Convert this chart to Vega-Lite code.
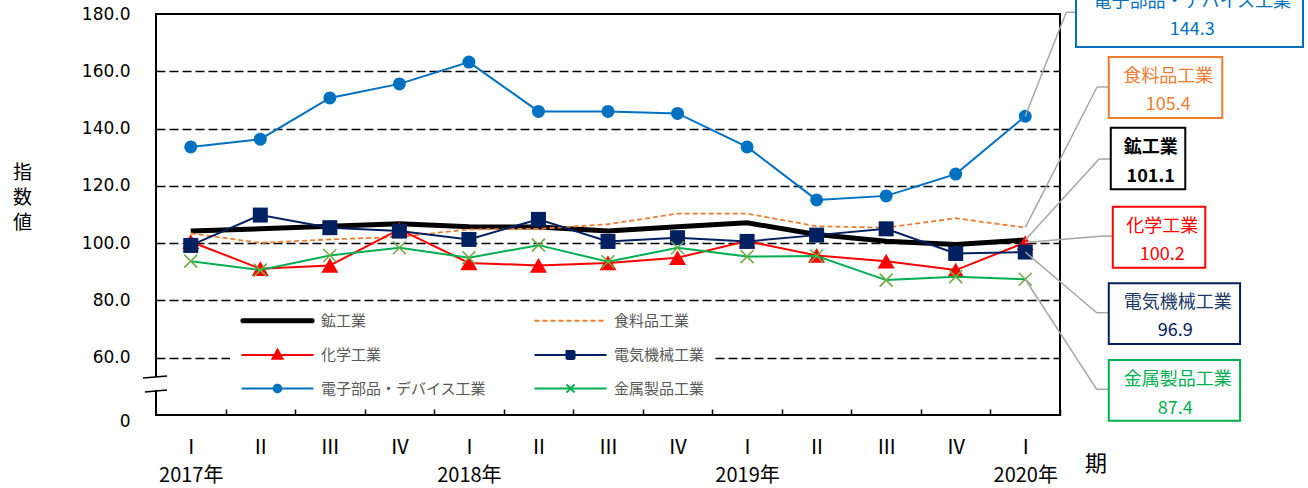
{
  "$schema": "https://vega.github.io/schema/vega-lite/v6.json",
  "width": 904,
  "height": 401,
  "autosize": {"type": "none"},
  "padding": {"left": 156, "top": 14, "right": 248, "bottom": 73},
  "background": "white",
  "config": {"font": "Noto Sans CJK JP", "view": {"stroke": "black", "strokeWidth": 2}},
  "data": {"values": [
    {"quarter": "2017年 Ⅰ", "series": "鉱工業", "value": 104.2},
    {"quarter": "2017年 Ⅱ", "series": "鉱工業", "value": 105.0},
    {"quarter": "2017年 Ⅲ", "series": "鉱工業", "value": 105.9},
    {"quarter": "2017年 Ⅳ", "series": "鉱工業", "value": 106.8},
    {"quarter": "2018年 Ⅰ", "series": "鉱工業", "value": 105.7},
    {"quarter": "2018年 Ⅱ", "series": "鉱工業", "value": 105.6},
    {"quarter": "2018年 Ⅲ", "series": "鉱工業", "value": 104.2},
    {"quarter": "2018年 Ⅳ", "series": "鉱工業", "value": 105.7},
    {"quarter": "2019年 Ⅰ", "series": "鉱工業", "value": 107.1},
    {"quarter": "2019年 Ⅱ", "series": "鉱工業", "value": 103.0},
    {"quarter": "2019年 Ⅲ", "series": "鉱工業", "value": 100.7},
    {"quarter": "2019年 Ⅳ", "series": "鉱工業", "value": 99.5},
    {"quarter": "2020年 Ⅰ", "series": "鉱工業", "value": 101.1},
    {"quarter": "2017年 Ⅰ", "series": "食料品工業", "value": 103.4},
    {"quarter": "2017年 Ⅱ", "series": "食料品工業", "value": 100.1},
    {"quarter": "2017年 Ⅲ", "series": "食料品工業", "value": 101.3},
    {"quarter": "2017年 Ⅳ", "series": "食料品工業", "value": 102.2},
    {"quarter": "2018年 Ⅰ", "series": "食料品工業", "value": 104.8},
    {"quarter": "2018年 Ⅱ", "series": "食料品工業", "value": 105.0},
    {"quarter": "2018年 Ⅲ", "series": "食料品工業", "value": 106.6},
    {"quarter": "2018年 Ⅳ", "series": "食料品工業", "value": 110.3},
    {"quarter": "2019年 Ⅰ", "series": "食料品工業", "value": 110.3},
    {"quarter": "2019年 Ⅱ", "series": "食料品工業", "value": 105.9},
    {"quarter": "2019年 Ⅲ", "series": "食料品工業", "value": 105.4},
    {"quarter": "2019年 Ⅳ", "series": "食料品工業", "value": 108.7},
    {"quarter": "2020年 Ⅰ", "series": "食料品工業", "value": 105.4},
    {"quarter": "2017年 Ⅰ", "series": "化学工業", "value": 100.5},
    {"quarter": "2017年 Ⅱ", "series": "化学工業", "value": 91.1},
    {"quarter": "2017年 Ⅲ", "series": "化学工業", "value": 92.2},
    {"quarter": "2017年 Ⅳ", "series": "化学工業", "value": 104.8},
    {"quarter": "2018年 Ⅰ", "series": "化学工業", "value": 93.1},
    {"quarter": "2018年 Ⅱ", "series": "化学工業", "value": 92.2},
    {"quarter": "2018年 Ⅲ", "series": "化学工業", "value": 93.1},
    {"quarter": "2018年 Ⅳ", "series": "化学工業", "value": 94.9},
    {"quarter": "2019年 Ⅰ", "series": "化学工業", "value": 100.7},
    {"quarter": "2019年 Ⅱ", "series": "化学工業", "value": 95.7},
    {"quarter": "2019年 Ⅲ", "series": "化学工業", "value": 93.7},
    {"quarter": "2019年 Ⅳ", "series": "化学工業", "value": 90.6},
    {"quarter": "2020年 Ⅰ", "series": "化学工業", "value": 100.2},
    {"quarter": "2017年 Ⅰ", "series": "電気機械工業", "value": 99.2},
    {"quarter": "2017年 Ⅱ", "series": "電気機械工業", "value": 109.8},
    {"quarter": "2017年 Ⅲ", "series": "電気機械工業", "value": 105.4},
    {"quarter": "2017年 Ⅳ", "series": "電気機械工業", "value": 104.2},
    {"quarter": "2018年 Ⅰ", "series": "電気機械工業", "value": 101.3},
    {"quarter": "2018年 Ⅱ", "series": "電気機械工業", "value": 108.3},
    {"quarter": "2018年 Ⅲ", "series": "電気機械工業", "value": 100.6},
    {"quarter": "2018年 Ⅳ", "series": "電気機械工業", "value": 101.9},
    {"quarter": "2019年 Ⅰ", "series": "電気機械工業", "value": 100.6},
    {"quarter": "2019年 Ⅱ", "series": "電気機械工業", "value": 102.8},
    {"quarter": "2019年 Ⅲ", "series": "電気機械工業", "value": 105.0},
    {"quarter": "2019年 Ⅳ", "series": "電気機械工業", "value": 96.4},
    {"quarter": "2020年 Ⅰ", "series": "電気機械工業", "value": 96.9},
    {"quarter": "2017年 Ⅰ", "series": "電子部品・デバイス工業", "value": 133.6},
    {"quarter": "2017年 Ⅱ", "series": "電子部品・デバイス工業", "value": 136.3},
    {"quarter": "2017年 Ⅲ", "series": "電子部品・デバイス工業", "value": 150.7},
    {"quarter": "2017年 Ⅳ", "series": "電子部品・デバイス工業", "value": 155.6},
    {"quarter": "2018年 Ⅰ", "series": "電子部品・デバイス工業", "value": 163.2},
    {"quarter": "2018年 Ⅱ", "series": "電子部品・デバイス工業", "value": 146.0},
    {"quarter": "2018年 Ⅲ", "series": "電子部品・デバイス工業", "value": 146.0},
    {"quarter": "2018年 Ⅳ", "series": "電子部品・デバイス工業", "value": 145.3},
    {"quarter": "2019年 Ⅰ", "series": "電子部品・デバイス工業", "value": 133.6},
    {"quarter": "2019年 Ⅱ", "series": "電子部品・デバイス工業", "value": 115.1},
    {"quarter": "2019年 Ⅲ", "series": "電子部品・デバイス工業", "value": 116.5},
    {"quarter": "2019年 Ⅳ", "series": "電子部品・デバイス工業", "value": 124.1},
    {"quarter": "2020年 Ⅰ", "series": "電子部品・デバイス工業", "value": 144.3},
    {"quarter": "2017年 Ⅰ", "series": "金属製品工業", "value": 93.7},
    {"quarter": "2017年 Ⅱ", "series": "金属製品工業", "value": 90.6},
    {"quarter": "2017年 Ⅲ", "series": "金属製品工業", "value": 95.7},
    {"quarter": "2017年 Ⅳ", "series": "金属製品工業", "value": 98.4},
    {"quarter": "2018年 Ⅰ", "series": "金属製品工業", "value": 94.9},
    {"quarter": "2018年 Ⅱ", "series": "金属製品工業", "value": 99.3},
    {"quarter": "2018年 Ⅲ", "series": "金属製品工業", "value": 93.5},
    {"quarter": "2018年 Ⅳ", "series": "金属製品工業", "value": 98.4},
    {"quarter": "2019年 Ⅰ", "series": "金属製品工業", "value": 95.3},
    {"quarter": "2019年 Ⅱ", "series": "金属製品工業", "value": 95.5},
    {"quarter": "2019年 Ⅲ", "series": "金属製品工業", "value": 87.1},
    {"quarter": "2019年 Ⅳ", "series": "金属製品工業", "value": 88.3},
    {"quarter": "2020年 Ⅰ", "series": "金属製品工業", "value": 87.4}
  ]},
  "encoding": {
    "x": {
      "field": "quarter", "type": "ordinal", "sort": null,
      "scale": {"type": "point", "padding": 0.5},
      "axis": {
        "title": "期", "titleX": 939.6, "titleY": 48, "titleAngle": 0, "titleAlign": "center", "titleBaseline": "middle",
        "titleFontSize": 22, "titleFontWeight": "normal", "titleColor": "black",
        "domain": false, "grid": false, "ticks": true, "tickSize": -6, "tickColor": "black", "tickWidth": 1.5,
        "tickOffset": 34.77, "labelOffset": -34.77, "labelAngle": 0, "labelFontSize": 20, "labelColor": "black",
        "labelBaseline": "top", "labelLineHeight": 28, "labelPadding": 28, "labelOverlap": false,
        "labelExpr": "split(datum.value, ' ')[1] == 'Ⅰ' ? [split(datum.value, ' ')[1], split(datum.value, ' ')[0]] : split(datum.value, ' ')[1]"
      }
    },
    "y": {
      "field": "value", "type": "quantitative",
      "scale": {"domain": [40, 180], "nice": false, "zero": false},
      "axis": {
        "title": ["指", "数", "値"], "titleAngle": 0, "titleX": -134, "titleY": 158, "titleAlign": "center", "titleBaseline": "middle",
        "titleFontSize": 19, "titleFontWeight": "normal", "titleLineHeight": 25, "titleColor": "black",
        "values": [40, 60, 80, 100, 120, 140, 160, 180],
        "labelExpr": "datum.value == 40 ? '0' : format(datum.value, '.1f')",
        "labelFont": "DejaVu Sans", "labelFontSize": 17, "labelColor": "black", "labelPadding": 26,
        "labelOffset": {"condition": {"test": "datum.value == 40", "value": 6}, "value": 0},
        "domain": false, "ticks": false, "grid": true, "gridColor": "black", "gridDash": [9, 4], "gridWidth": 1.5,
        "gridOpacity": {"condition": {"test": "datum.value == 40 || datum.value == 180", "value": 0}, "value": 1}
      }
    }
  },
  "layer": [
    {"transform": [{"filter": "datum.series == '鉱工業'"}], "mark": {"type": "line", "color": "#000000", "strokeWidth": 5}, "encoding": {}},
    {"transform": [{"filter": "datum.series == '食料品工業'"}], "mark": {"type": "line", "color": "#ED7D31", "strokeWidth": 1.8, "strokeDash": [5, 3]}, "encoding": {}},
    {"transform": [{"filter": "datum.series == '化学工業'"}], "mark": {"type": "line", "color": "#FF0000", "strokeWidth": 2}, "encoding": {}},
    {"transform": [{"filter": "datum.series == '化学工業'"}], "mark": {"type": "point", "shape": "triangle-up", "size": 289, "filled": true, "fill": "#FF0000", "strokeWidth": 0, "opacity": 1}},
    {"transform": [{"filter": "datum.series == '電気機械工業'"}], "mark": {"type": "line", "color": "#002060", "strokeWidth": 2}, "encoding": {}},
    {"transform": [{"filter": "datum.series == '電気機械工業'"}], "mark": {"type": "point", "shape": "square", "size": 225, "filled": true, "fill": "#002060", "strokeWidth": 0, "opacity": 1}},
    {"transform": [{"filter": "datum.series == '電子部品・デバイス工業'"}], "mark": {"type": "line", "color": "#0070C0", "strokeWidth": 2}, "encoding": {}},
    {"transform": [{"filter": "datum.series == '電子部品・デバイス工業'"}], "mark": {"type": "point", "shape": "circle", "size": 169, "filled": true, "fill": "#0070C0", "strokeWidth": 0, "opacity": 1}},
    {"transform": [{"filter": "datum.series == '金属製品工業'"}], "mark": {"type": "line", "color": "#00B050", "strokeWidth": 2}, "encoding": {}},
    {"transform": [{"filter": "datum.series == '金属製品工業'"}], "mark": {"type": "point", "shape": "M-1,-1L1,1M-1,1L1,-1", "size": 169, "filled": false, "stroke": "#70AD47", "strokeWidth": 1.6, "opacity": 1}},
    {
      "transform": [{"filter": "false"}],
      "mark": {"type": "point", "filled": true, "opacity": 1, "strokeWidth": 2, "size": 100},
      "encoding": {
        "fill": {"field": "series", "type": "nominal",
          "scale": {"domain": ["鉱工業", "食料品工業", "化学工業", "電気機械工業", "電子部品・デバイス工業", "金属製品工業"],
                    "range": ["#000000", "#ED7D31", "#FF0000", "#002060", "#0070C0", "#00B050"]},
          "legend": {"title": null, "orient": "none", "legendX": 74, "legendY": 289, "direction": "horizontal", "columns": 2,
            "columnPadding": 43, "rowPadding": 16.5, "padding": 10, "fillColor": "white", "symbolSize": 100, "symbolOffset": 30,
            "labelOffset": 36, "labelFontSize": 15, "labelColor": "#595959", "labelLimit": 400, "symbolStrokeWidth": 2,
            "labelExpr": "indexof(['食料品工業','電気機械工業','金属製品工業'], datum.value) >= 0 ? datum.label + '　　　　　　　' : datum.label"}},
        "stroke": {"field": "series", "type": "nominal",
          "scale": {"domain": ["鉱工業", "食料品工業", "化学工業", "電気機械工業", "電子部品・デバイス工業", "金属製品工業"],
                    "range": ["#000000", "#ED7D31", "#FF0000", "#002060", "#0070C0", "#00B050"]},
          "legend": {"title": null, "orient": "none", "legendX": 74, "legendY": 289, "direction": "horizontal", "columns": 2,
            "columnPadding": 43, "rowPadding": 16.5, "padding": 10, "fillColor": "white", "symbolSize": 100, "symbolOffset": 30,
            "labelOffset": 36, "labelFontSize": 15, "labelColor": "#595959", "labelLimit": 400, "symbolStrokeWidth": 2,
            "labelExpr": "indexof(['食料品工業','電気機械工業','金属製品工業'], datum.value) >= 0 ? datum.label + '　　　　　　　' : datum.label"}},
        "shape": {"field": "series", "type": "nominal",
          "scale": {"domain": ["鉱工業", "食料品工業", "化学工業", "電気機械工業", "電子部品・デバイス工業", "金属製品工業"],
                    "range": ["M-7.2,-0.3H7.2V0.3H-7.2Z", "M-7.2,0H7.2", "M-7.2,0H7.2M0,-1.1L1,0.75H-1Z", "M-7.2,0H7.2M-0.8,-0.8H0.8V0.8H-0.8Z", "M-7.2,0H7.2M-0.75,0A0.75,0.75 0 1,0 0.75,0A0.75,0.75 0 1,0 -0.75,0Z", "M-7.2,0H7.2M-0.8,-0.8L0.8,0.8M-0.8,0.8L0.8,-0.8"]},
          "legend": {"title": null, "orient": "none", "legendX": 74, "legendY": 289, "direction": "horizontal", "columns": 2,
            "columnPadding": 43, "rowPadding": 16.5, "padding": 10, "fillColor": "white", "symbolSize": 100, "symbolOffset": 30,
            "labelOffset": 36, "labelFontSize": 15, "labelColor": "#595959", "labelLimit": 400, "symbolStrokeWidth": 2,
            "labelExpr": "indexof(['食料品工業','電気機械工業','金属製品工業'], datum.value) >= 0 ? datum.label + '　　　　　　　' : datum.label"}},
        "strokeDash": {"field": "series", "type": "nominal",
          "scale": {"domain": ["鉱工業", "食料品工業", "化学工業", "電気機械工業", "電子部品・デバイス工業", "金属製品工業"],
                    "range": [[1, 0], [5, 3], [1, 0], [1, 0], [1, 0], [1, 0]]},
          "legend": {"title": null, "orient": "none", "legendX": 74, "legendY": 289, "direction": "horizontal", "columns": 2,
            "columnPadding": 43, "rowPadding": 16.5, "padding": 10, "fillColor": "white", "symbolSize": 100, "symbolOffset": 30,
            "labelOffset": 36, "labelFontSize": 15, "labelColor": "#595959", "labelLimit": 400, "symbolStrokeWidth": 2,
            "labelExpr": "indexof(['食料品工業','電気機械工業','金属製品工業'], datum.value) >= 0 ? datum.label + '　　　　　　　' : datum.label"}}
      }
    },
    {
      "transform": [{"filter": "datum.series == '鉱工業' && datum.quarter == '2017年 Ⅰ'"}],
      "mark": {"type": "point", "shape": "M-4,-7H4V6H-4Z", "size": 4, "filled": true, "fill": "white", "strokeWidth": 0, "opacity": 1, "xOffset": -34.77},
      "encoding": {"y": {"datum": 50.8, "type": "quantitative"}}
    },
    {
      "transform": [{"filter": "datum.series == '鉱工業' && datum.quarter == '2017年 Ⅰ'"}],
      "mark": {"type": "point", "shape": "M-13,-6L11,-8M-11,8L11,6", "size": 4, "filled": false, "stroke": "black", "strokeWidth": 1.6, "opacity": 1, "xOffset": -34.77},
      "encoding": {"y": {"datum": 50.8, "type": "quantitative"}}
    },
    {
      "transform": [{"filter": "datum.series == '電子部品・デバイス工業' && datum.quarter == '2020年 Ⅰ'"}],
      "layer": [
        {"mark": {"type": "rule", "color": "#A6A6A6", "strokeWidth": 1.5, "x2Offset": 41, "y2Offset": -104}, "encoding": {"x2": {"field": "quarter"}, "y2": {"field": "value"}}},
        {"mark": {"type": "rule", "color": "#A6A6A6", "strokeWidth": 1.5, "xOffset": 41, "yOffset": -104, "x2Offset": 51, "y2Offset": -104}, "encoding": {"x2": {"field": "quarter"}, "y2": {"field": "value"}}},
        {"mark": {"type": "point", "shape": "M-1,-0.2687H1V0.2687H-1Z", "size": 51529, "filled": true, "fill": "white", "stroke": "#0070C0", "strokeWidth": 2, "opacity": 1, "xOffset": 164.3, "yOffset": -99.7}},
        {"mark": {"type": "text", "color": "#0070C0", "fontSize": 18, "dx": 167, "dy": -114}, "encoding": {"text": {"field": "series"}}},
        {"mark": {"type": "text", "color": "#0070C0", "fontSize": 18, "dx": 167, "dy": -86}, "encoding": {"text": {"field": "value", "type": "quantitative", "format": ".1f"}}}
      ]
    },
    {
      "transform": [{"filter": "datum.series == '食料品工業' && datum.quarter == '2020年 Ⅰ'"}],
      "layer": [
        {"mark": {"type": "rule", "color": "#A6A6A6", "strokeWidth": 1.5, "x2Offset": 71.8, "y2Offset": -140.7}, "encoding": {"x2": {"field": "quarter"}, "y2": {"field": "value"}}},
        {"mark": {"type": "rule", "color": "#A6A6A6", "strokeWidth": 1.5, "xOffset": 71.8, "yOffset": -140.7, "x2Offset": 83.5, "y2Offset": -140.7}, "encoding": {"x2": {"field": "quarter"}, "y2": {"field": "value"}}},
        {"mark": {"type": "point", "shape": "M-1,-0.5374H1V0.5374H-1Z", "size": 12882, "filled": true, "fill": "white", "stroke": "#ED7D31", "strokeWidth": 2, "opacity": 1, "xOffset": 140.3, "yOffset": -140.2}},
        {"mark": {"type": "text", "color": "#ED7D31", "fontSize": 18, "dx": 143, "dy": -150.7}, "encoding": {"text": {"field": "series"}}},
        {"mark": {"type": "text", "color": "#ED7D31", "fontSize": 18, "dx": 143, "dy": -122.7}, "encoding": {"text": {"field": "value", "type": "quantitative", "format": ".1f"}}}
      ]
    },
    {
      "transform": [{"filter": "datum.series == '鉱工業' && datum.quarter == '2020年 Ⅰ'"}],
      "layer": [
        {"mark": {"type": "rule", "color": "#A6A6A6", "strokeWidth": 1.5, "x2Offset": 73.8, "y2Offset": -81}, "encoding": {"x2": {"field": "quarter"}, "y2": {"field": "value"}}},
        {"mark": {"type": "rule", "color": "#A6A6A6", "strokeWidth": 1.5, "xOffset": 73.8, "yOffset": -81, "x2Offset": 85.5, "y2Offset": -81}, "encoding": {"x2": {"field": "quarter"}, "y2": {"field": "value"}}},
        {"mark": {"type": "point", "shape": "M-1,-0.8255H1V0.8255H-1Z", "size": 5550, "filled": true, "fill": "white", "stroke": "#000000", "strokeWidth": 2, "opacity": 1, "xOffset": 122.8, "yOffset": -81.5}},
        {"mark": {"type": "text", "color": "#000000", "fontSize": 18, "fontWeight": "bold", "dx": 125.5, "dy": -92}, "encoding": {"text": {"field": "series"}}},
        {"mark": {"type": "text", "color": "#000000", "fontSize": 18, "fontWeight": "bold", "dx": 125.5, "dy": -63}, "encoding": {"text": {"field": "value", "type": "quantitative", "format": ".1f"}}}
      ]
    },
    {
      "transform": [{"filter": "datum.series == '化学工業' && datum.quarter == '2020年 Ⅰ'"}],
      "layer": [
        {"mark": {"type": "rule", "color": "#A6A6A6", "strokeWidth": 1.5, "x2Offset": 77.8, "y2Offset": -6.5}, "encoding": {"x2": {"field": "quarter"}, "y2": {"field": "value"}}},
        {"mark": {"type": "rule", "color": "#A6A6A6", "strokeWidth": 1.5, "xOffset": 77.8, "yOffset": -6.5, "x2Offset": 87.5, "y2Offset": -6.5}, "encoding": {"x2": {"field": "quarter"}, "y2": {"field": "value"}}},
        {"mark": {"type": "point", "shape": "M-1,-0.6595H1V0.6595H-1Z", "size": 8556, "filled": true, "fill": "white", "stroke": "#FF0000", "strokeWidth": 2, "opacity": 1, "xOffset": 133.8, "yOffset": -5.3}},
        {"mark": {"type": "text", "color": "#FF0000", "fontSize": 18, "dx": 137, "dy": -16}, "encoding": {"text": {"field": "series"}}},
        {"mark": {"type": "text", "color": "#FF0000", "fontSize": 18, "dx": 137, "dy": 12}, "encoding": {"text": {"field": "value", "type": "quantitative", "format": ".1f"}}}
      ]
    },
    {
      "transform": [{"filter": "datum.series == '電気機械工業' && datum.quarter == '2020年 Ⅰ'"}],
      "layer": [
        {"mark": {"type": "rule", "color": "#A6A6A6", "strokeWidth": 1.5, "x2Offset": 71.5, "y2Offset": 60.7}, "encoding": {"x2": {"field": "quarter"}, "y2": {"field": "value"}}},
        {"mark": {"type": "rule", "color": "#A6A6A6", "strokeWidth": 1.5, "xOffset": 71.5, "yOffset": 60.7, "x2Offset": 83.5, "y2Offset": 60.7}, "encoding": {"x2": {"field": "quarter"}, "y2": {"field": "value"}}},
        {"mark": {"type": "point", "shape": "M-1,-0.4623H1V0.4623H-1Z", "size": 17240, "filled": true, "fill": "white", "stroke": "#002060", "strokeWidth": 2, "opacity": 1, "xOffset": 149.2, "yOffset": 61.7}},
        {"mark": {"type": "text", "color": "#203864", "fontSize": 18, "dx": 152.5, "dy": 51.3}, "encoding": {"text": {"field": "series"}}},
        {"mark": {"type": "text", "color": "#002060", "fontSize": 18, "dx": 150, "dy": 79}, "encoding": {"text": {"field": "value", "type": "quantitative", "format": ".1f"}}}
      ]
    },
    {
      "transform": [{"filter": "datum.series == '金属製品工業' && datum.quarter == '2020年 Ⅰ'"}],
      "layer": [
        {"mark": {"type": "rule", "color": "#A6A6A6", "strokeWidth": 1.5, "x2Offset": 71.5, "y2Offset": 110.1}, "encoding": {"x2": {"field": "quarter"}, "y2": {"field": "value"}}},
        {"mark": {"type": "rule", "color": "#A6A6A6", "strokeWidth": 1.5, "xOffset": 71.5, "yOffset": 110.1, "x2Offset": 83.5, "y2Offset": 110.1}, "encoding": {"x2": {"field": "quarter"}, "y2": {"field": "value"}}},
        {"mark": {"type": "point", "shape": "M-1,-0.4623H1V0.4623H-1Z", "size": 17240, "filled": true, "fill": "white", "stroke": "#00B050", "strokeWidth": 2, "opacity": 1, "xOffset": 149.2, "yOffset": 111.1}},
        {"mark": {"type": "text", "color": "#00B050", "fontSize": 18, "dx": 152.5, "dy": 100.8}, "encoding": {"text": {"field": "series"}}},
        {"mark": {"type": "text", "color": "#00B050", "fontSize": 18, "dx": 150, "dy": 130.1}, "encoding": {"text": {"field": "value", "type": "quantitative", "format": ".1f"}}}
      ]
    }
  ]
}
